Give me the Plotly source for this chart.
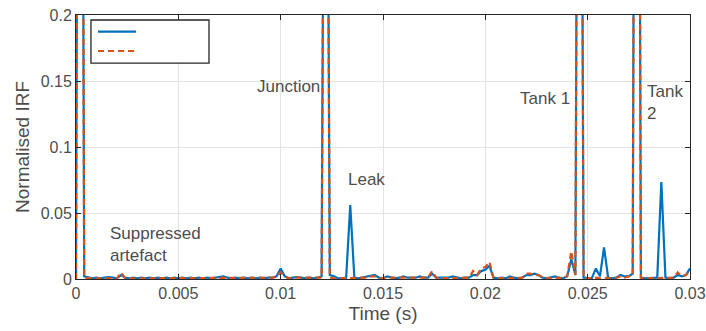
import plotly.graph_objects as go

# ---- data -------------------------------------------------------------
sample_interval = 0.0002  # s
n_samples = 151
time_s = [round(i * sample_interval, 4) for i in range(n_samples)]

irf_blue = [
    0.0, 1.0, 0.002, 0.001, 0.0005, 0.001, 0.0005, 0.001, 0.0015, 0.001,   # 0-9
    0.0005, 0.003, 0.001, 0.0005, 0.001, 0.0005, 0.001, 0.0005, 0.001, 0.0005,  # 10-19
    0.001, 0.0005, 0.001, 0.0005, 0.001, 0.0005, 0.001, 0.0005, 0.001, 0.0005,  # 20-29
    0.001, 0.0005, 0.001, 0.0005, 0.001, 0.0015, 0.002, 0.001, 0.0005, 0.001,  # 30-39
    0.0005, 0.001, 0.0005, 0.001, 0.0005, 0.001, 0.0005, 0.001, 0.001, 0.002,  # 40-49
    0.008, 0.002, 0.0005, 0.001, 0.0015, 0.001, 0.0005, 0.001, 0.0005, 0.001,  # 50-59
    0.002, 0.65, 0.003, 0.002, 0.0005, 0.0005, 0.001, 0.056, 0.001, 0.0005,  # 60-69
    0.001, 0.002, 0.002, 0.003, 0.001, 0.0005, 0.002, 0.001, 0.0005, 0.001,  # 70-79
    0.002, 0.001, 0.001, 0.001, 0.002, 0.001, 0.001, 0.004, 0.001, 0.001,  # 80-89
    0.0005, 0.001, 0.002, 0.001, 0.0005, 0.001, 0.001, 0.003, 0.003, 0.006,  # 90-99
    0.007, 0.010, 0.001, 0.0005, 0.001, 0.0005, 0.002, 0.001, 0.0005, 0.001,  # 100-109
    0.003, 0.003, 0.004, 0.003, 0.001, 0.0005, 0.001, 0.002, 0.001, 0.0005,  # 110-119
    0.002, 0.015, 0.003, 0.8, 0.001, 0.0005, 0.0005, 0.008, 0.002, 0.024,  # 120-129
    0.001, 0.0005, 0.001, 0.003, 0.002, 0.002, 0.004, 1.0, 0.001, 0.0005,  # 130-139
    0.0005, 0.001, 0.001, 0.0735, 0.001, 0.0005, 0.001, 0.003, 0.002, 0.003,  # 140-149
    0.008,  # 150
]

irf_orange = [
    0.0, 1.0, 0.001, 0.0005, 0.0005, 0.0005, 0.0005, 0.0005, 0.001, 0.0005,  # 0-9
    0.0005, 0.005, 0.0005, 0.0005, 0.0005, 0.0005, 0.0005, 0.0005, 0.0005, 0.0005,  # 10-19
    0.0005, 0.0005, 0.0005, 0.0005, 0.0005, 0.0005, 0.0005, 0.0005, 0.0005, 0.0005,  # 20-29
    0.0005, 0.0005, 0.0005, 0.0005, 0.0005, 0.001, 0.001, 0.0005, 0.0005, 0.0005,  # 30-39
    0.0005, 0.0005, 0.0005, 0.0005, 0.0005, 0.0005, 0.0005, 0.0005, 0.001, 0.002,  # 40-49
    0.005, 0.002, 0.0005, 0.001, 0.001, 0.0005, 0.0005, 0.0005, 0.0005, 0.0005,  # 50-59
    0.001, 0.65, 0.001, 0.0005, 0.0005, 0.0005, 0.0005, 0.0005, 0.0005, 0.0005,  # 60-69
    0.0005, 0.001, 0.002, 0.002, 0.001, 0.0005, 0.001, 0.001, 0.0005, 0.0005,  # 70-79
    0.001, 0.001, 0.0005, 0.001, 0.001, 0.0005, 0.001, 0.006, 0.001, 0.0005,  # 80-89
    0.0005, 0.001, 0.001, 0.0005, 0.0005, 0.001, 0.001, 0.006, 0.003, 0.008,  # 90-99
    0.009, 0.013, 0.001, 0.0005, 0.0005, 0.001, 0.001, 0.0005, 0.0005, 0.001,  # 100-109
    0.004, 0.004, 0.003, 0.003, 0.001, 0.0005, 0.0005, 0.001, 0.0005, 0.0005,  # 110-119
    0.002, 0.021, 0.003, 0.8, 0.001, 0.0005, 0.0005, 0.001, 0.0005, 0.001,  # 120-129
    0.0005, 0.0005, 0.001, 0.002, 0.001, 0.002, 0.003, 1.0, 0.001, 0.0005,  # 130-139
    0.0005, 0.0005, 0.0005, 0.001, 0.0005, 0.0005, 0.001, 0.005, 0.002, 0.003,  # 140-149
    0.006,  # 150
]

x_ticks = [0, 0.005, 0.01, 0.015, 0.02, 0.025, 0.03]
x_tick_labels = ["0", "0.005", "0.01", "0.015", "0.02", "0.025", "0.03"]
y_ticks = [0, 0.05, 0.1, 0.15, 0.2]
y_tick_labels = ["0", "0.05", "0.1", "0.15", "0.2"]

labels = [
    # text, x, y, xanchor
    ("Junction", 0.01202, 0.1457, "right"),
    ("Leak", 0.01319, 0.0755, "left"),
    ("Tank 1", 0.02422, 0.1369, "right"),
    ("Tank<br>2", 0.0278, 0.134, "left"),
    ("Suppressed<br>artefact", 0.00158, 0.026, "left"),
]

# ---- figure -----------------------------------------------------------
BLUE = "#0072BD"
ORANGE = "#D95319"
AXC = "#262626"
TXT = "#4d4d4d"
FONT = "Liberation Sans, Arial, sans-serif"

fig = go.Figure()
fig.add_trace(go.Scatter(x=time_s, y=irf_blue, mode="lines",
                         line=dict(color=BLUE, width=2.2), showlegend=False))
fig.add_trace(go.Scatter(x=time_s, y=irf_orange, mode="lines",
                         line=dict(color=ORANGE, width=2.2, dash="6px,4px"),
                         showlegend=False))

for text, x, y, xa in labels:
    fig.add_annotation(x=x, y=y, text=text, showarrow=False, xanchor=xa,
                       yanchor="middle", align="left",
                       font=dict(family=FONT, size=17, color=TXT))

# legend box (entries have no text in the original)
fig.add_shape(type="rect", xref="paper", yref="paper",
              x0=0.0244, x1=0.2166, y0=0.818, y1=0.981,
              line=dict(color=AXC, width=1.3), fillcolor="white", layer="above")
fig.add_shape(type="line", xref="paper", yref="paper",
              x0=0.0358, x1=0.0977, y0=0.9367, y1=0.9367,
              line=dict(color=BLUE, width=2.2), layer="above")
fig.add_shape(type="line", xref="paper", yref="paper",
              x0=0.0358, x1=0.0977, y0=0.8636, y1=0.8636,
              line=dict(color=ORANGE, width=2.2, dash="6px,4px"), layer="above")

axis_common = dict(showline=True, linecolor=AXC, linewidth=1, mirror="ticks",
                   ticks="inside", ticklen=5, tickcolor=AXC, tickwidth=1,
                   showgrid=True, gridcolor="#E3E3E3", gridwidth=1,
                   zeroline=False, automargin=False,
                   tickfont=dict(family=FONT, size=16, color=TXT))

fig.update_xaxes(range=[0, 0.03], tickmode="array", tickvals=x_ticks,
                 ticktext=x_tick_labels,
                 title=dict(text="Time (s)", standoff=5,
                            font=dict(family=FONT, size=19, color=TXT)),
                 **axis_common)
fig.update_yaxes(range=[0, 0.2], tickmode="array", tickvals=y_ticks,
                 ticktext=y_tick_labels,
                 title=dict(text="Normalised IRF", standoff=6,
                            font=dict(family=FONT, size=19, color=TXT)),
                 **axis_common)

fig.update_layout(width=706, height=331,
                  margin=dict(l=76, r=16, t=15, b=52),
                  paper_bgcolor="white", plot_bgcolor="white",
                  showlegend=False)

fig.write_html("out.html")
